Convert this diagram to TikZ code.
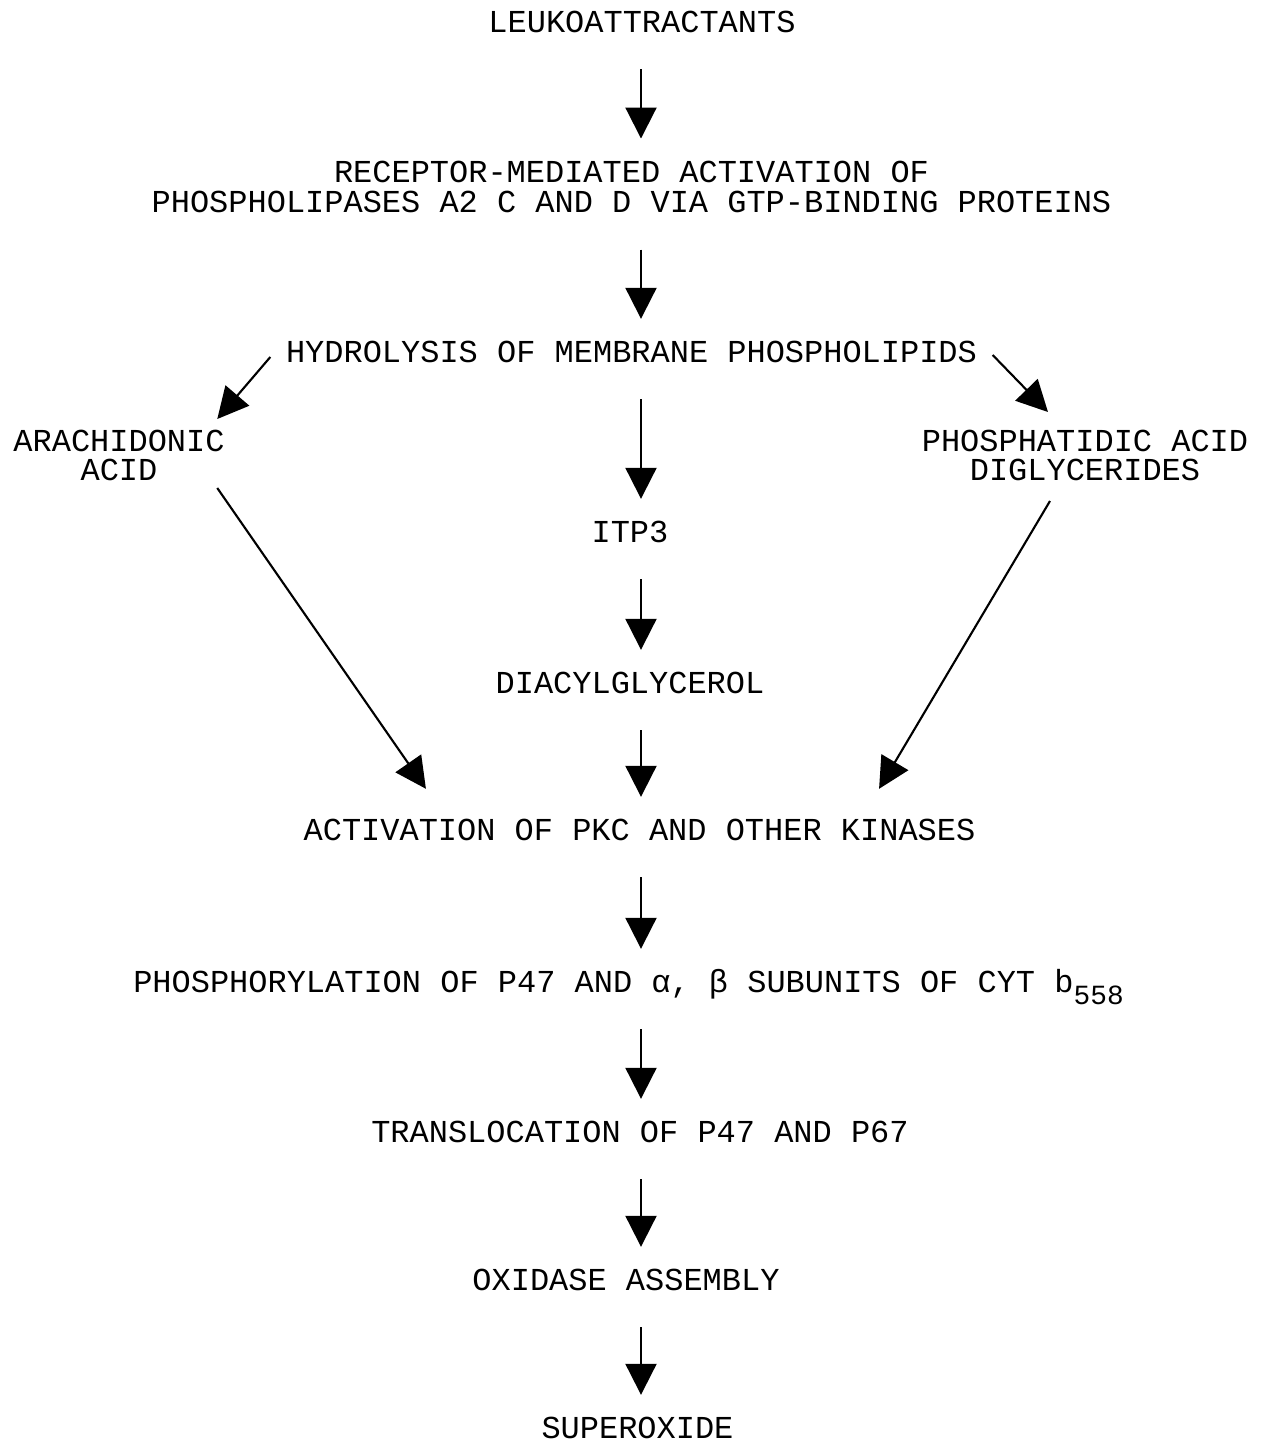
\documentclass[tikz,border=0pt]{standalone}
\usepackage{fontspec}
\setmonofont{Liberation Mono}
\usetikzlibrary{arrows.meta}

\begin{document}
\begin{tikzpicture}[
  txt/.style={font=\ttfamily\fontsize{9.1}{8.5}\selectfont, inner sep=0pt, text height=0.21cm, text depth=0pt},
  txttwo/.style={font=\ttfamily\fontsize{9.1}{8.5}\selectfont, inner sep=0pt, align=center},
  flow/.style={-{Triangle[length=0.31cm,width=0.31cm]}, line width=0.6pt},
  vflow/.style={flow, shorten <=0.36cm, shorten >=0.22cm}]
  \useasboundingbox (0,0) rectangle (12.62,-14.42);
  \coordinate (axis) at (6.41,0);

  \node[txt] (leuko) at (6.42,-0.22) {LEUKOATTRACTANTS};
  \node[txttwo] (recep) at (6.315,-1.87) {RECEPTOR-MEDIATED ACTIVATION OF\\PHOSPHOLIPASES A2 C AND D VIA GTP-BINDING PROTEINS};
  \node[txt] (hydro) at (6.315,-3.52) {HYDROLYSIS OF MEMBRANE PHOSPHOLIPIDS};
  \node[txttwo] (arach) at (1.19,-4.555) {ARACHIDONIC\\ACID};
  \node[txttwo] (phosa) at (10.85,-4.555) {PHOSPHATIDIC ACID\\DIGLYCERIDES};
  \node[txt] (itp) at (6.30,-5.32) {ITP3};
  \node[txt] (diacyl) at (6.30,-6.83) {DIACYLGLYCEROL};
  \node[txt] (activ) at (6.395,-8.30) {ACTIVATION OF PKC AND OTHER KINASES};
  \node[txt] (phosph) at (6.285,-9.82) {PHOSPHORYLATION OF P47 AND α, β SUBUNITS OF CYT b\raisebox{-3.4pt}[0pt][0pt]{\fontsize{7.9}{8}\selectfont 558}};
  \node[txt] (transl) at (6.40,-11.32) {TRANSLOCATION OF P47 AND P67};
  \node[txt] (oxid) at (6.26,-12.80) {OXIDASE ASSEMBLY};
  \node[txt] (super) at (6.375,-14.28) {SUPEROXIDE};

  \draw[vflow] (leuko.south -| axis) -- (recep.north -| axis);
  \draw[vflow] (recep.south -| axis) -- (hydro.north -| axis);
  \draw[vflow] (hydro.south -| axis) -- (itp.north -| axis);
  \draw[vflow] (itp.south -| axis) -- (diacyl.north -| axis);
  \draw[vflow] (diacyl.south -| axis) -- (activ.north -| axis);
  \draw[vflow] (activ.south -| axis) -- (phosph.north -| axis);
  \draw[vflow] (phosph.south -| axis) -- (transl.north -| axis);
  \draw[vflow] (transl.south -| axis) -- (oxid.north -| axis);
  \draw[vflow] (oxid.south -| axis) -- (super.north -| axis);

  \draw[flow] ([shift={(-0.15,-0.05)}]hydro.west) -- ([shift={(-0.08,0.10)}]arach.north east);
  \draw[flow] ([shift={(0.15,-0.03)}]hydro.east) -- ([shift={(-0.37,0.17)}]phosa.north);
  \draw[flow] ([shift={(-0.08,-0.06)}]arach.south east) -- ([shift={(1.23,0.30)}]activ.north west);
  \draw[flow] ([shift={(-0.35,-0.19)}]phosa.south) -- ([shift={(-0.97,0.30)}]activ.north east);
\end{tikzpicture}
\end{document}
